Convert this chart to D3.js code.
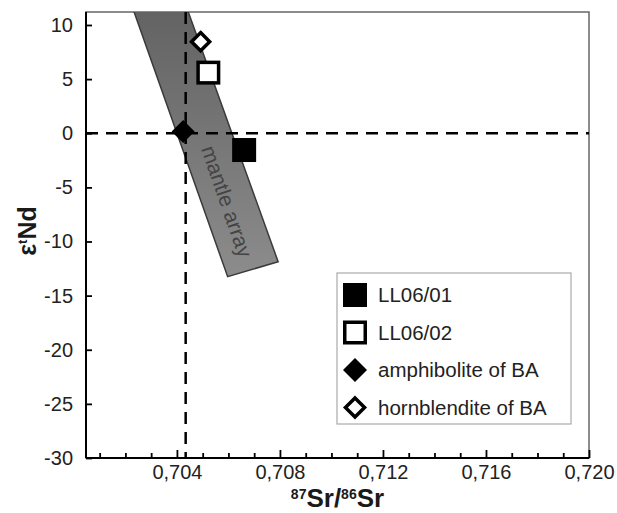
<!DOCTYPE html>
<html>
<head>
<meta charset="utf-8">
<script src="https://cdn.jsdelivr.net/npm/d3@7"></script>
<style>
  body { margin: 0; background: #fff; }
  svg { font-family: "Liberation Sans", Arial, sans-serif; }
</style>
</head>
<body>
<div id="chart"></div>
<script>
// sample points
var samples = ["LL06/01", "LL06/02", "amphibolite of BA", "hornblendite of BA"];
var srValues = [0.70661, 0.70522, 0.70424, 0.70492];
var ndValues = [-1.55, 5.6, 0.15, 8.46];
var shapes = ["square", "square", "diamond", "diamond"];
var filled = [true, false, true, false];

// mantle array band (corners, clockwise from top-left)
var arraySr = [0.70207, 0.70417, 0.70793, 0.70597];
var arrayNd = [13, 13, -11.87, -13.25];

// reference lines (bulk earth)
var refSr = 0.70434;
var refNd = 0;

// axes
var xTicksMajor = [0.704, 0.708, 0.712, 0.716, 0.720];
var xTicksMinor = [0.701, 0.702, 0.703, 0.705, 0.706, 0.707, 0.709, 0.710, 0.711,
                   0.713, 0.714, 0.715, 0.717, 0.718, 0.719];
var yTicks = [10, 5, 0, -5, -10, -15, -20, -25, -30];

var config = {
  w: 617,
  h: 513,
  margin: {top: 12, right: 28, bottom: 55, left: 86}
};
var plotW = config.w - config.margin.left - config.margin.right; // 503
var plotH = config.h - config.margin.top - config.margin.bottom; // 446

var locale = d3.formatLocale({decimal: ",", thousands: ".", grouping: [3], currency: ["", ""], minus: "-"});
var fmtX = locale.format(".3f");
var fmtY = locale.format("d");

var x = d3.scaleLinear().domain([0.70047, 0.7200]).range([0, plotW]);
var y = d3.scaleLinear().domain([-30, 11.2]).range([plotH, 0]);

var svg = d3.select("#chart").append("svg")
  .attr("width", config.w)
  .attr("height", config.h);

var defs = svg.append("defs");
defs.append("clipPath").attr("id", "plotClip")
  .append("rect").attr("width", plotW).attr("height", plotH);
var grad = defs.append("linearGradient").attr("id", "bandGrad")
  .attr("x1", 0).attr("y1", 0).attr("x2", 0).attr("y2", 1);
grad.append("stop").attr("offset", "0%").attr("stop-color", "#606060");
grad.append("stop").attr("offset", "100%").attr("stop-color", "#8c8c8c");

var g = svg.append("g")
  .attr("transform", "translate(" + config.margin.left + "," + config.margin.top + ")");

// frame (top and right)
g.append("rect")
  .attr("width", plotW).attr("height", plotH)
  .attr("fill", "none")
  .attr("stroke", "#666")
  .attr("stroke-width", 1.5);

var inner = g.append("g").attr("clip-path", "url(#plotClip)");

// mantle array band
var bandPts = arraySr.map(function(d, i){ return [x(d), y(arrayNd[i])]; });
inner.append("path")
  .attr("d", d3.line()(bandPts) + "Z")
  .attr("fill", "url(#bandGrad)")
  .attr("stroke", "#3a3a3a")
  .attr("stroke-width", 1.5);

g.append("text")
  .attr("transform", "translate(" + x(0.70594) + "," + y(-6.3) + ") rotate(71)")
  .attr("text-anchor", "middle")
  .attr("dy", "0.35em")
  .style("font-size", "21px")
  .attr("fill", "#444")
  .text("mantle array");

// dashed reference lines
g.append("line")
  .attr("x1", 0).attr("x2", plotW)
  .attr("y1", y(refNd)).attr("y2", y(refNd))
  .attr("stroke", "#000").attr("stroke-width", 2.5)
  .attr("stroke-dasharray", "12,8");
g.append("line")
  .attr("x1", x(refSr)).attr("x2", x(refSr))
  .attr("y1", 0).attr("y2", plotH)
  .attr("stroke", "#000").attr("stroke-width", 2.5)
  .attr("stroke-dasharray", "12,8");

// axes
var xAxis = g.append("g").attr("transform", "translate(0," + plotH + ")");
xAxis.call(d3.axisBottom(x).tickValues(xTicksMinor).tickSize(-5).tickFormat(""));
xAxis.call(function(sel){ sel.select(".domain").remove(); });
var xMajor = g.append("g").attr("transform", "translate(0," + plotH + ")")
  .call(d3.axisBottom(x).tickValues(xTicksMajor).tickSize(-8).tickPadding(7).tickFormat(fmtX));
xMajor.select(".domain").remove();

var yAxis = g.append("g")
  .call(d3.axisLeft(y).tickValues(yTicks).tickSize(-6).tickPadding(13).tickFormat(fmtY));
yAxis.select(".domain").remove();

g.selectAll(".tick line").attr("stroke", "#000").attr("stroke-width", 1.8);
g.selectAll(".tick text").style("font-size", "20px").attr("fill", "#222")
  .style("font-family", "'Liberation Sans', Arial, sans-serif");

// left and bottom axis lines
g.append("line").attr("x1", 0).attr("x2", 0).attr("y1", 0).attr("y2", plotH)
  .attr("stroke", "#000").attr("stroke-width", 2);
g.append("line").attr("x1", 0).attr("x2", plotW).attr("y1", plotH).attr("y2", plotH)
  .attr("stroke", "#000").attr("stroke-width", 2);

// symbol drawing
function drawSymbol(sel, shape, isFilled, size){
  var sw = 3.5;
  if(shape === "square"){
    var s = isFilled ? size : size - sw;
    sel.append("rect")
      .attr("x", -s / 2).attr("y", -s / 2)
      .attr("width", s).attr("height", s)
      .attr("fill", isFilled ? "#000" : "#fff")
      .attr("stroke", isFilled ? "none" : "#000")
      .attr("stroke-width", sw);
  } else {
    var r = isFilled ? size / 2 : size / 2 - sw * 0.7;
    sel.append("path")
      .attr("d", "M0," + (-r) + "L" + r + ",0L0," + r + "L" + (-r) + ",0Z")
      .attr("fill", isFilled ? "#000" : "#fff")
      .attr("stroke", isFilled ? "none" : "#000")
      .attr("stroke-width", sw)
      .attr("stroke-linejoin", "miter");
  }
}

// data points
samples.forEach(function(name, i){
  var pt = g.append("g")
    .attr("transform", "translate(" + x(srValues[i]) + "," + y(ndValues[i]) + ")");
  drawSymbol(pt, shapes[i], filled[i], shapes[i] === "square" ? 24 : 23);
});

// legend
var legend = svg.append("g").attr("transform", "translate(337,273)");
legend.append("rect")
  .attr("width", 234).attr("height", 151)
  .attr("fill", "#fff")
  .attr("stroke", "#aaa")
  .attr("stroke-width", 1.2);
samples.forEach(function(name, i){
  var row = legend.append("g").attr("transform", "translate(18," + (22 + i * 37.5) + ")");
  drawSymbol(row, shapes[i], filled[i], 24);
  row.append("text")
    .attr("x", 23)
    .attr("dy", "0.35em")
    .style("font-size", "20.5px")
    .attr("fill", "#222")
    .text(name);
});

// axis titles
var xt = svg.append("text")
  .attr("x", config.margin.left + plotW / 2)
  .attr("y", 507)
  .attr("text-anchor", "middle")
  .style("font-weight", "bold")
  .style("font-size", "26px")
  .attr("fill", "#1a1a1a");
xt.append("tspan").attr("dy", "-8").style("font-size", "14px").text("87");
xt.append("tspan").attr("dy", "8").text("Sr/");
xt.append("tspan").attr("dy", "-8").style("font-size", "14px").text("86");
xt.append("tspan").attr("dy", "8").text("Sr");

var yt = svg.append("text")
  .attr("transform", "translate(36," + (config.margin.top + plotH / 2 - 4) + ") rotate(-90)")
  .attr("text-anchor", "middle")
  .style("font-weight", "bold")
  .style("font-size", "25px")
  .attr("fill", "#1a1a1a");
yt.append("tspan").text("ε");
yt.append("tspan").attr("dy", "-9").style("font-size", "13px").text("t");
yt.append("tspan").attr("dy", "9").text("Nd");
</script>
</body>
</html>
